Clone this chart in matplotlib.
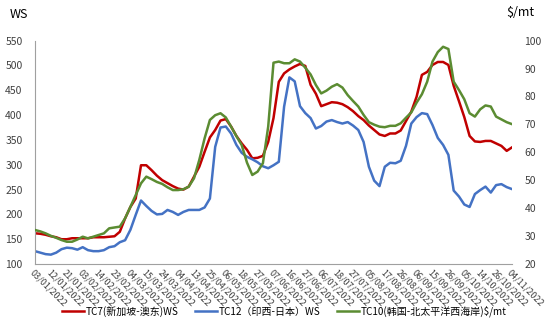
# TC7 / TC12 / TC10 freight rates, 2022

import numpy as np
import matplotlib.pyplot as plt

plt.rcParams['font.family'] = ['Noto Sans CJK SC', 'DejaVu Sans']

# Tick labels (every 7th trading day)
dates = ['03/01/2022', '12/01/2022', '21/01/2022', '03/02/2022', '14/02/2022',
         '23/02/2022', '04/03/2022', '15/03/2022', '24/03/2022', '04/04/2022',
         '13/04/2022', '25/04/2022', '06/05/2022', '18/05/2022', '27/05/2022',
         '07/06/2022', '16/06/2022', '27/06/2022', '06/07/2022', '18/07/2022',
         '27/07/2022', '05/08/2022', '17/08/2022', '26/08/2022', '06/09/2022',
         '15/09/2022', '26/09/2022', '05/10/2022', '14/10/2022', '26/10/2022',
         '04/11/2022']

# TC7 Singapore - East Australia (WS)
tc7 = [162, 161, 159, 156, 154, 150, 150, 152, 152, 152,
       152, 154, 154, 154, 155, 156, 165, 192, 215, 232,
       299, 299, 289, 278, 269, 263, 257, 252, 250, 256,
       276, 296, 326, 355, 370, 389, 392, 377, 358, 343,
       330, 313, 314, 318, 346, 394, 467, 484, 492, 498,
       503, 499, 461, 443, 418, 422, 426, 425, 422, 416,
       408, 398, 390, 379, 370, 361, 358, 363, 363, 369,
       388, 407, 437, 481, 487, 501, 507, 507, 501, 459,
       428, 396, 358, 347, 346, 348, 348, 343, 338, 328,
       335]

# TC12 West India - Japan (WS)
tc12 = [126, 123, 120, 119, 123, 130, 133, 132, 129, 134,
        128, 126, 126, 128, 134, 136, 144, 148, 169, 199,
        228, 217, 207, 200, 201, 209, 205, 199, 205, 209,
        209, 209, 214, 232, 336, 375, 377, 363, 340, 324,
        316, 311, 305, 297, 293, 299, 306, 417, 476, 468,
        418, 404, 394, 373, 378, 387, 390, 386, 383, 386,
        379, 370, 346, 296, 268, 257, 296, 304, 303, 308,
        338, 383, 396, 404, 402, 380, 354, 340, 320, 248,
        236, 220, 215, 241, 249, 256, 244, 259, 261, 255,
        251]

# TC10 South Korea - North Pacific West Coast ($/mt)
tc10 = [32.2, 31.7, 31.0, 30.1, 29.4, 28.6, 28.0, 28.0, 28.8, 29.8,
        29.2, 29.8, 30.4, 31.0, 32.8, 33.1, 33.4, 36.4, 40.5, 44.7,
        48.9, 51.3, 50.4, 49.4, 48.7, 47.5, 46.5, 46.5, 46.8, 47.7,
        50.7, 57.3, 65.0, 71.6, 73.3, 74.0, 72.5, 69.2, 65.8, 62.6,
        56.3, 51.9, 53.1, 56.1, 69.2, 92.1, 92.5, 91.9, 91.9, 93.3,
        92.5, 90.3, 87.9, 84.1, 81.1, 82.1, 83.5, 84.4, 83.2, 80.5,
        78.4, 76.4, 73.4, 70.8, 69.9, 69.2, 69.0, 69.5, 69.5, 70.4,
        72.4, 74.3, 77.8, 80.8, 85.3, 92.5, 95.9, 97.8, 97.0, 85.3,
        82.3, 79.0, 74.0, 72.8, 75.4, 76.8, 76.4, 72.8, 71.8, 70.8,
        70.1]

# three samples per label interval
x = np.arange(len(tc7)) / 3

fig = plt.figure(figsize=(5.47, 3.33), dpi=100)
ax = fig.add_axes([0.064, 0.207, 0.872, 0.671])
ax2 = ax.twinx()

l1, = ax.plot(x, tc7, color='#C00000', lw=1.8, label='TC7(新加坡-澳东)WS')
l2, = ax.plot(x, tc12, color='#4472C4', lw=1.8, label='TC12（印西-日本）WS')
l3, = ax2.plot(x, tc10, color='#5B8C32', lw=1.8, label='TC10(韩国-北太平洋西海岸)$/mt')

ax.set_xlim(0, 30)
ax.set_ylim(100, 550)
ax.set_yticks(np.arange(100, 551, 50))
ax2.set_ylim(20, 100)
ax2.set_yticks(np.arange(20, 101, 10))

ax.set_xticks(np.arange(len(dates)))
ax.set_xticklabels(dates, rotation=-45, ha='left', va='top',
                   rotation_mode='anchor', fontsize=6.5, color='#404040')

for a in (ax, ax2):
    for s in ('top', 'right'):
        a.spines[s].set_visible(False)
ax2.spines['left'].set_visible(False)
ax2.spines['bottom'].set_visible(False)
ax.spines['left'].set_color('#A0A0A0')
ax.spines['bottom'].set_color('#A0A0A0')

ax.tick_params(axis='y', length=0, pad=9, labelsize=7.5, labelcolor='#404040')
ax.tick_params(axis='x', length=0, pad=3)
ax2.tick_params(axis='y', length=0, pad=9, labelsize=7.5, labelcolor='#404040')

fig.text(0.018, 0.955, 'WS', fontsize=9, va='center')
fig.text(0.925, 0.962, '$/mt', fontsize=9, va='center')

fig.legend(handles=[l1, l2, l3], loc='center', bbox_to_anchor=(0.52, 0.065),
           ncol=3, frameon=False, fontsize=7.2, handlelength=2.2,
           handletextpad=0.2, columnspacing=1.6)

fig.savefig('out.png', dpi=100)
